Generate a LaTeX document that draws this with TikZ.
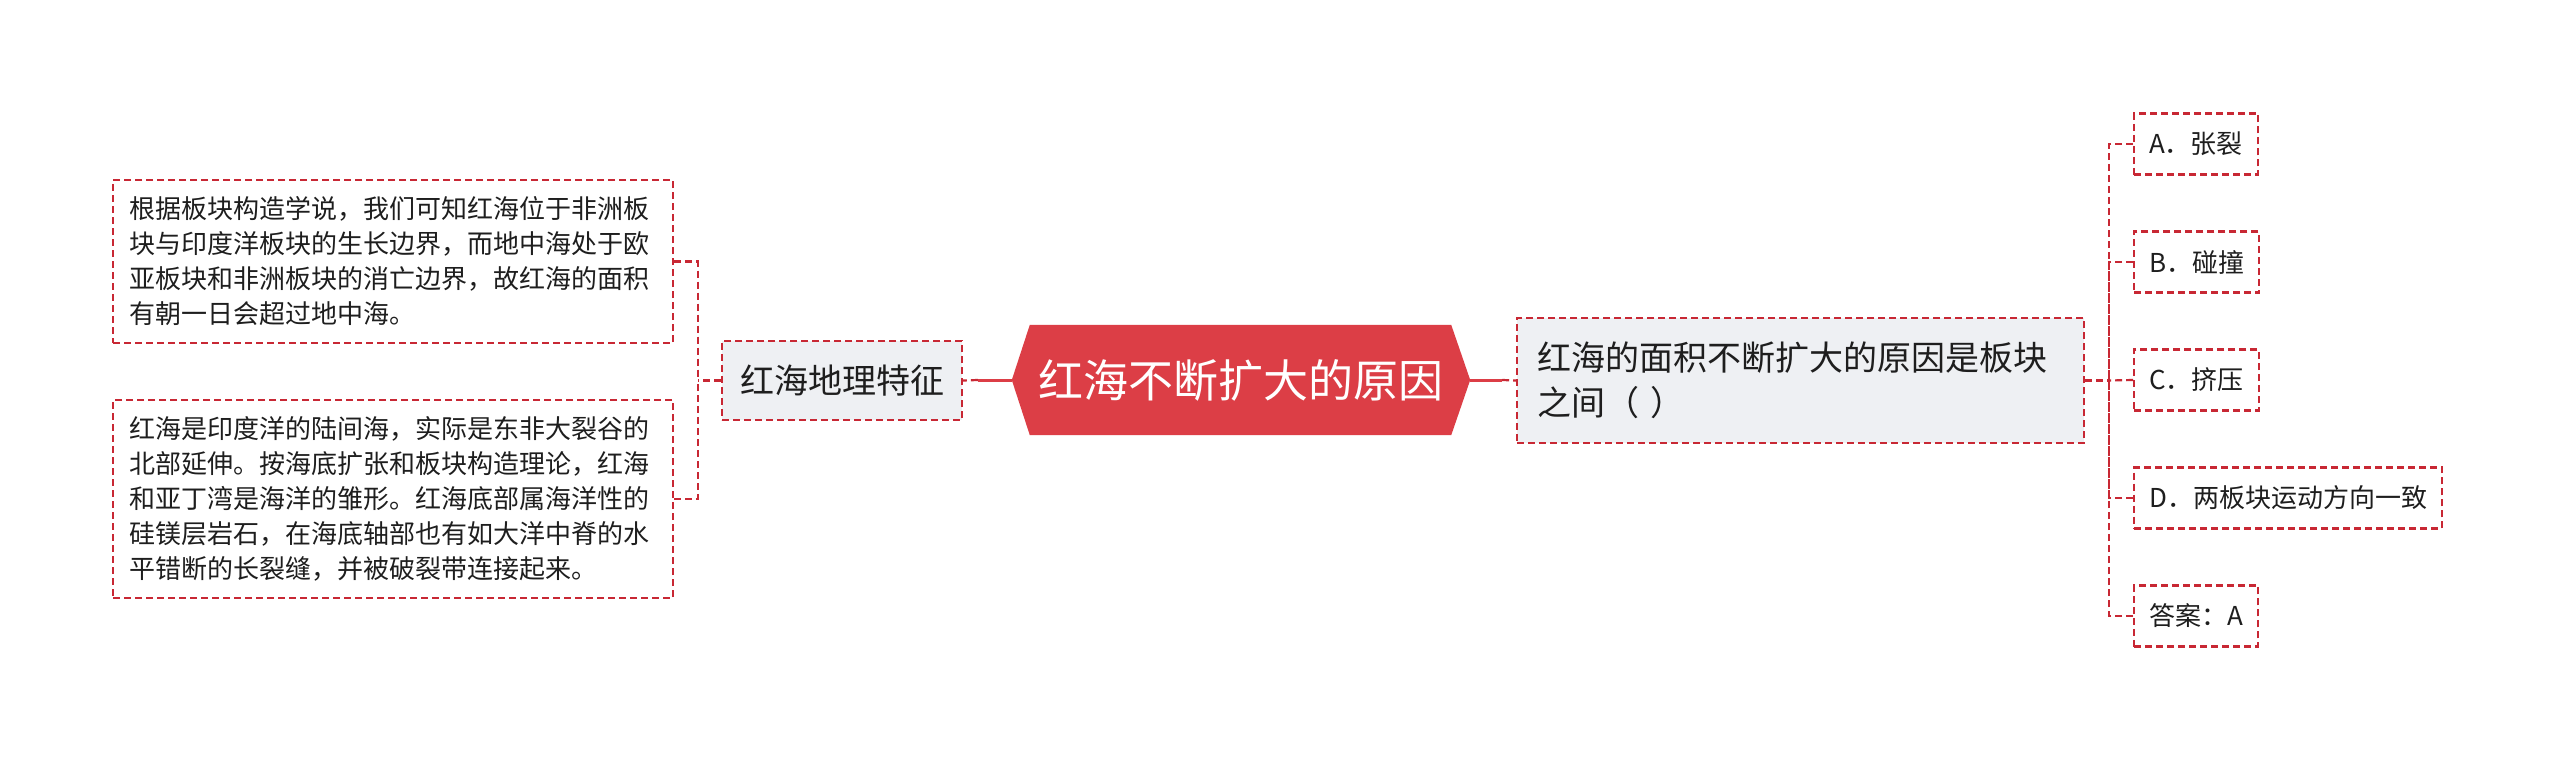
\documentclass[tikz,border=0pt]{standalone}
\usepackage{fontspec}
\setmainfont{Noto Sans CJK SC}
\usetikzlibrary{backgrounds}
\definecolor{mred}{RGB}{220,62,70}
\definecolor{dred}{RGB}{200,40,52}
\definecolor{boxgray}{RGB}{238,240,243}
\definecolor{txt}{RGB}{30,30,30}
\tikzset{
  dl/.style={draw=dred, line width=2.2pt, dash pattern=on 7pt off 4pt},
  sl/.style={draw=mred, line width=3pt},
  dbox/.style={dl, rectangle, inner ysep=0pt, text=txt},
  para/.style={dbox, inner xsep=16pt, text width=528pt, align=left,
    font=\fontsize{26}{35}\selectfont},
  midbox/.style={dbox, fill=boxgray, inner xsep=18pt, minimum height=79pt,
    font=\fontsize{34}{45}\selectfont},
  qbox/.style={dbox, fill=boxgray, inner xsep=20pt, text width=527pt, align=left,
    minimum height=125pt, font=\fontsize{34}{45}\selectfont},
  opt/.style={dbox, anchor=west, inner xsep=15pt, minimum height=61pt,
    font=\fontsize{26}{32}\selectfont},
  rootnode/.style={rectangle, inner sep=0pt, minimum width=458pt, minimum height=110pt,
    text=white, font=\fontsize{45}{54}\selectfont}
}
\begin{document}
\begin{tikzpicture}[x=1pt,y=-1pt]
\useasboundingbox (0,0) rectangle (2560,761);

\node[rootnode] (c) at (1241,380) {红海不断扩大的原因};

\node[midbox] (l) at (842,380.5) {红海地理特征};
\node[para, minimum height=163pt] (l1) at (393,261.5) {根据板块构造学说，我们可知红海位于非洲板\\块与印度洋板块的生长边界，而地中海处于欧\\亚板块和非洲板块的消亡边界，故红海的面积\\有朝一日会超过地中海。};
\node[para, minimum height=198pt] (l2) at (393,499) {红海是印度洋的陆间海，实际是东非大裂谷的\\北部延伸。按海底扩张和板块构造理论，红海\\和亚丁湾是海洋的雏形。红海底部属海洋性的\\硅镁层岩石，在海底轴部也有如大洋中脊的水\\平错断的长裂缝，并被破裂带连接起来。};

\node[qbox] (r) at (1800.5,380.5) {红海的面积不断扩大的原因是板块\\之间（ ）};
\node[opt] (oa) at (2133,144) {A．张裂};
\node[opt] (ob) at (2133,262) {B．碰撞};
\node[opt] (oc) at (2133,380) {C．挤压};
\node[opt] (od) at (2133,498) {D．两板块运动方向一致};
\node[opt] (oe) at (2133,616) {答案：A};

\begin{scope}[on background layer]
\fill[white] (0,0) rectangle (2560,761);
\fill[mred] (c.west) -- ([xshift=18pt]c.north west) -- ([xshift=-19pt]c.north east)
  -- (c.east) -- ([xshift=-19pt]c.south east) -- ([xshift=18pt]c.south west) -- cycle;
\end{scope}

% root connectors
\draw[sl] (c.west) -- ++(-34,0) coordinate (lj);
\draw[dl] (lj) -- (l.east);
\draw[sl] (c.east) -- ++(32,0) coordinate (rj);
\draw[dl] (rj) -- (r.west);

% left tree
\coordinate (lt) at (698,380.5);
\draw[dl] (l.west) -- (lt);
\draw[dl] (l1.east) -| (lt);
\draw[dl] (l2.east) -| (lt);

% right tree
\coordinate (rt) at (2109,380.5);
\draw[dl] (r.east) -- (rt);
\draw[dl] (oa.west) -| (rt);
\draw[dl] (ob.west) -| (rt);
\draw[dl] (oc.west) -- (rt);
\draw[dl] (od.west) -| (rt);
\draw[dl] (oe.west) -| (rt);
\end{tikzpicture}
\end{document}
